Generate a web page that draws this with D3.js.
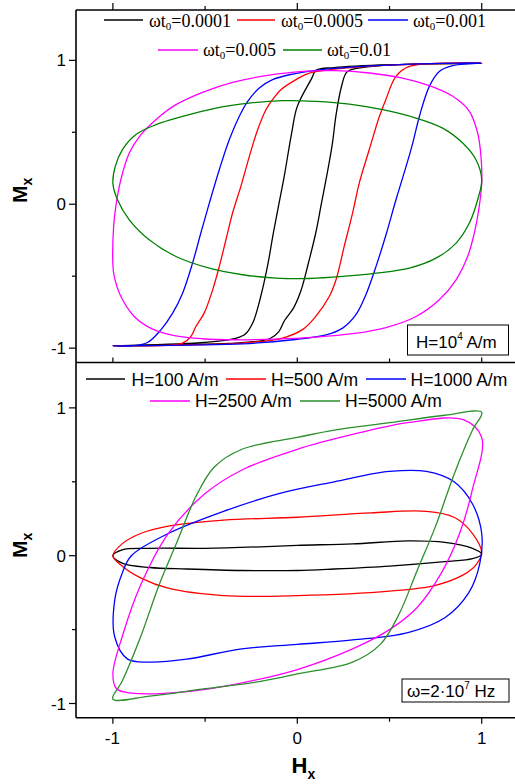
<!DOCTYPE html>
<html>
<head>
<meta charset="utf-8">
<script src="https://cdn.jsdelivr.net/npm/d3@7"></script>
<style>
  body { margin: 0; background: #fff; }
  svg { display: block; }
</style>
</head>
<body>
<div id="chart"></div>
<script>
// top panel: H = 1e4 A/m, different omega*t0
const topLabels = ["0.0001", "0.0005", "0.001", "0.005", "0.01"];
const topColors = ["#000000", "#ff0000", "#0000ff", "#ff00ff", "#008000"];

const loopW0001 = [[-1, -0.985], [-0.6, -0.975], [-0.3, -0.962], [-0.15, -0.935], [-0.1, -0.885], [-0.07, -0.81],
    [-0.02, -0.72], [0.02, -0.6], [0.06, -0.41], [0.1, -0.2], [0.13, 0], [0.16, 0.2], [0.19, 0.42], [0.21, 0.62],
    [0.24, 0.82], [0.27, 0.92], [0.35, 0.95], [0.55, 0.97], [1, 0.98],
    [0.5, 0.97], [0.2, 0.95], [0.1, 0.93], [0.08, 0.88], [0, 0.68], [-0.03, 0.5], [-0.07, 0.2], [-0.1, 0],
    [-0.13, -0.2], [-0.16, -0.42], [-0.2, -0.65], [-0.24, -0.82], [-0.28, -0.9], [-0.33, -0.93], [-0.5, -0.96]];

const loopW0005 = [[-1, -0.984], [-0.3, -0.965], [-0.08, -0.93], [0.03, -0.87], [0.1, -0.78], [0.174, -0.64],
    [0.21, -0.525], [0.255, -0.29], [0.3, -0.06], [0.336, 0.147], [0.39, 0.379], [0.445, 0.61], [0.48, 0.727],
    [0.535, 0.889], [0.608, 0.958], [1, 0.982],
    [0.4, 0.96], [0.065, 0.912], [-0.007, 0.866], [-0.089, 0.796], [-0.134, 0.727], [-0.17, 0.657], [-0.215, 0.518],
    [-0.26, 0.333], [-0.306, 0.124], [-0.351, -0.061], [-0.387, -0.247], [-0.423, -0.432], [-0.459, -0.595],
    [-0.505, -0.757], [-0.55, -0.85], [-0.577, -0.919], [-0.622, -0.965]];

const loopW001 = [[-1, -0.984], [-0.297, -0.97], [-0.025, -0.942], [0.156, -0.908], [0.246, -0.861], [0.318, -0.768],
    [0.372, -0.629], [0.427, -0.432], [0.481, -0.212], [0.535, 0.031], [0.59, 0.263], [0.626, 0.425], [0.662, 0.61],
    [0.716, 0.819], [0.77, 0.923], [0.843, 0.963], [1, 0.982],
    [0.427, 0.963], [0.101, 0.931], [-0.043, 0.9], [-0.134, 0.866], [-0.206, 0.808], [-0.269, 0.715], [-0.315, 0.61],
    [-0.369, 0.448], [-0.423, 0.24], [-0.477, 0.008], [-0.523, -0.2], [-0.568, -0.409], [-0.622, -0.618],
    [-0.676, -0.757], [-0.74, -0.873], [-0.812, -0.961], [-0.893, -0.984]];

const loopW005 = [[-1, -0.42], [-0.996, -0.155], [-0.984, -0.015], [-0.957, 0.17], [-0.911, 0.356], [-0.848, 0.484],
    [-0.767, 0.588], [-0.658, 0.692], [-0.514, 0.778], [-0.351, 0.847], [-0.17, 0.894], [0.029, 0.924], [0.21, 0.928],
    [0.391, 0.912], [0.571, 0.877], [0.716, 0.824], [0.843, 0.75], [0.933, 0.646], [0.978, 0.495], [0.996, 0.333],
    [1, 0.147], [0.984, -0.038], [0.96, -0.2], [0.924, -0.362], [0.861, -0.525], [0.77, -0.664], [0.644, -0.78],
    [0.481, -0.857], [0.3, -0.9], [0.101, -0.924], [-0.116, -0.938], [-0.333, -0.942], [-0.514, -0.935],
    [-0.658, -0.915], [-0.785, -0.868], [-0.884, -0.78], [-0.957, -0.64], [-0.993, -0.5]];

const loopW01 = [[-1, 0.147], [-0.987, 0.263], [-0.948, 0.379], [-0.875, 0.484], [-0.767, 0.553], [-0.622, 0.61],
    [-0.441, 0.668], [-0.26, 0.703], [-0.08, 0.72], [0.101, 0.715], [0.282, 0.696], [0.463, 0.657], [0.644, 0.599],
    [0.788, 0.529], [0.897, 0.425], [0.969, 0.309], [1, 0.17], [0.978, 0.031], [0.933, -0.131], [0.861, -0.27],
    [0.752, -0.375], [0.608, -0.444], [0.427, -0.479], [0.246, -0.502], [0.065, -0.516], [-0.116, -0.513],
    [-0.297, -0.49], [-0.477, -0.444], [-0.658, -0.363], [-0.803, -0.247], [-0.911, -0.108], [-0.975, 0.031]];

// bottom panel: omega = 2e7 Hz, different H amplitude
const botLabels = ["H=100 A/m", "H=500 A/m", "H=1000 A/m", "H=2500 A/m", "H=5000 A/m"];
const botColors = ["#000000", "#ff0000", "#0000ff", "#ff00ff", "#2b8f2b"];

const loopH100 = [[-1, 0], [-0.95, 0.04], [-0.8, 0.05], [-0.5, 0.05], [-0.2, 0.06], [0, 0.07], [0.3, 0.08], [0.6, 0.1],
    [0.8, 0.09], [0.95, 0.05], [1, 0.01], [0.95, -0.02], [0.8, -0.04], [0.5, -0.07], [0.2, -0.09], [0, -0.1],
    [-0.3, -0.1], [-0.6, -0.09], [-0.8, -0.08], [-0.95, -0.05]];

const loopH500 = [[-1, 0], [-0.95, 0.08], [-0.85, 0.15], [-0.7, 0.2], [-0.4, 0.24], [0, 0.26], [0.4, 0.29], [0.7, 0.3],
    [0.85, 0.26], [0.95, 0.15], [1, 0.02], [0.97, -0.06], [0.9, -0.13], [0.75, -0.2], [0.5, -0.24], [0, -0.27],
    [-0.4, -0.27], [-0.7, -0.22], [-0.85, -0.15], [-0.95, -0.07]];

const loopH1000 = [[-0.9, 0], [-0.7, 0.15], [-0.4, 0.3], [-0.1, 0.42], [0.2, 0.5], [0.5, 0.57], [0.7, 0.57], [0.85, 0.5],
    [0.95, 0.35], [1, 0.15], [0.99, -0.05], [0.93, -0.25], [0.8, -0.42], [0.6, -0.52], [0.3, -0.57], [0, -0.6],
    [-0.3, -0.63], [-0.6, -0.7], [-0.8, -0.72], [-0.92, -0.7], [-0.99, -0.55], [-0.99, -0.3], [-0.95, -0.12]];

const loopH2500 = [[1, 0.8], [0.9, 0.92], [0.6, 0.9], [0.3, 0.82], [0, 0.72], [-0.3, 0.58], [-0.5, 0.42], [-0.7, 0.15],
    [-0.85, -0.2], [-0.95, -0.55], [-1, -0.8], [-0.98, -0.9], [-0.9, -0.93], [-0.6, -0.92], [-0.3, -0.86], [0, -0.77],
    [0.3, -0.63], [0.5, -0.5], [0.65, -0.35], [0.78, -0.12], [0.88, 0.15], [0.95, 0.45]];

const loopH5000 = [[1, 0.97], [0.8, 0.95], [0.5, 0.9], [0.2, 0.85], [0, 0.8], [-0.3, 0.72], [-0.45, 0.6], [-0.55, 0.4],
    [-0.65, 0.1], [-0.75, -0.2], [-0.85, -0.55], [-0.95, -0.85], [-1, -0.97], [-0.8, -0.95], [-0.5, -0.9], [-0.2, -0.85],
    [0, -0.8], [0.3, -0.72], [0.45, -0.6], [0.55, -0.4], [0.65, -0.1], [0.75, 0.2], [0.85, 0.55], [0.95, 0.85]];

const majorTicks = [-1, 0, 1];
const minorTicks = [-0.5, 0.5];

const W = 515, H = 784;
const left = 76, right = 518.6;
const topY0 = 10, midY = 362.5, botY1 = 717.7;
const sans = "'Liberation Sans', Arial, sans-serif";
const serif = "'Liberation Serif', 'Times New Roman', serif";

const svg = d3.select("#chart").append("svg")
    .attr("width", W)
    .attr("height", H);

const x = d3.scaleLinear().domain([-1.2, 1.2]).range([left, right]);
const yTop = d3.scaleLinear().domain([-1.1, 1.35]).range([midY, topY0]);
const yBot = d3.scaleLinear().domain([-1.096, 1.307]).range([botY1, midY]);

svg.append("defs").append("clipPath").attr("id", "clipTop")
    .append("rect").attr("x", left).attr("y", topY0).attr("width", right - left).attr("height", midY - topY0);
svg.select("defs").append("clipPath").attr("id", "clipBot")
    .append("rect").attr("x", left).attr("y", midY).attr("width", right - left).attr("height", botY1 - midY);

function drawLoops(loops, colors, yScale, clip) {
    const line = d3.line()
        .x(d => x(d[0]))
        .y(d => yScale(d[1]))
        .curve(d3.curveCatmullRomClosed.alpha(0.5));
    const g = svg.append("g").attr("clip-path", `url(#${clip})`);
    loops.forEach((pts, i) => {
        g.append("path")
            .attr("d", line(pts))
            .attr("fill", "none")
            .attr("stroke", colors[i])
            .attr("stroke-width", 1.3);
    });
}

drawLoops([loopW0001, loopW0005, loopW001, loopW005, loopW01], topColors, yTop, "clipTop");
drawLoops([loopH100, loopH500, loopH1000, loopH2500, loopH5000], botColors, yBot, "clipBot");

// frame
const frame = svg.append("g").attr("stroke", "#000").attr("stroke-width", 1.6);
frame.append("line").attr("x1", left).attr("x2", left).attr("y1", topY0).attr("y2", botY1);
frame.append("line").attr("x1", left).attr("x2", W).attr("y1", topY0).attr("y2", topY0);
frame.append("line").attr("x1", left).attr("x2", W).attr("y1", midY).attr("y2", midY);
frame.append("line").attr("x1", left).attr("x2", W).attr("y1", botY1).attr("y2", botY1);

// x ticks: top (outward), middle (up into top panel), bottom (outward)
function xTicks(y0, dir, majorLen, minorLen) {
    const g = svg.append("g").attr("stroke", "#000").attr("stroke-width", 1.2);
    majorTicks.forEach(v => g.append("line").attr("x1", x(v)).attr("x2", x(v)).attr("y1", y0).attr("y2", y0 + dir * majorLen));
    minorTicks.forEach(v => g.append("line").attr("x1", x(v)).attr("x2", x(v)).attr("y1", y0).attr("y2", y0 + dir * minorLen));
}
xTicks(topY0, -1, 7, 4);
xTicks(midY, -1, 5, 4);
xTicks(botY1, 1, 6, 4);

// y axes
function yAxis(yScale) {
    const g = svg.append("g");
    majorTicks.forEach(v => {
        g.append("line").attr("x1", left - 7).attr("x2", left).attr("y1", yScale(v)).attr("y2", yScale(v))
            .attr("stroke", "#000").attr("stroke-width", 1.2);
        g.append("text").attr("x", 66).attr("y", yScale(v)).attr("dy", "0.36em")
            .attr("text-anchor", "end").attr("font-family", sans).attr("font-size", 17)
            .text(v === -1 ? "-1" : v);
    });
    minorTicks.forEach(v => {
        g.append("line").attr("x1", left - 4).attr("x2", left).attr("y1", yScale(v)).attr("y2", yScale(v))
            .attr("stroke", "#000").attr("stroke-width", 1.2);
    });
}
yAxis(yTop);
yAxis(yBot);

majorTicks.forEach(v => {
    svg.append("text").attr("x", x(v) - (v === -1 ? 0.5 : 0)).attr("y", 744)
        .attr("text-anchor", "middle").attr("font-family", sans).attr("font-size", 17)
        .text(v === -1 ? "-1" : v);
});

// axis titles
function mLabel(yStart) {
    const t = svg.append("text")
        .attr("transform", `translate(26.7,${yStart}) rotate(-90)`)
        .attr("font-family", sans).attr("font-weight", "bold").attr("font-size", 21);
    t.append("tspan").text("M");
    t.append("tspan").attr("font-size", 14).attr("dy", 5).text("x");
}
mLabel(203);
mLabel(558);

const hx = svg.append("text").attr("x", 291.5).attr("y", 773)
    .attr("font-family", sans).attr("font-weight", "bold").attr("font-size", 22);
hx.append("tspan").text("H");
hx.append("tspan").attr("font-size", 14).attr("dy", 6).text("x");

// top legend (serif)
const topLegend = [
    { i: 0, x1: 104, x2: 143, tx: 149, y: 20, ty: 26.5 },
    { i: 1, x1: 237, x2: 275, tx: 281, y: 20, ty: 26.5 },
    { i: 2, x1: 368, x2: 408, tx: 413, y: 20, ty: 26.5 },
    { i: 3, x1: 158, x2: 198, tx: 203, y: 50, ty: 55.5 },
    { i: 4, x1: 283, x2: 322, tx: 327, y: 50, ty: 55.5 }
];
topLegend.forEach(d => {
    svg.append("line").attr("x1", d.x1).attr("x2", d.x2).attr("y1", d.y).attr("y2", d.y)
        .attr("stroke", topColors[d.i]).attr("stroke-width", 1.3);
    const t = svg.append("text").attr("x", d.tx).attr("y", d.ty)
        .attr("font-family", serif).attr("font-size", 18);
    t.append("tspan").text("ωt");
    t.append("tspan").attr("font-size", 11).attr("dy", 3).text("0");
    t.append("tspan").attr("dy", -3).text("=" + topLabels[d.i]);
});

// bottom legend (sans)
const botLegend = [
    { i: 0, x1: 86, x2: 125, tx: 131.5, y: 379, ty: 386 },
    { i: 1, x1: 226, x2: 266, tx: 271, y: 379, ty: 386 },
    { i: 2, x1: 366, x2: 406, tx: 410.5, y: 379, ty: 386 },
    { i: 3, x1: 150, x2: 190, tx: 195, y: 401, ty: 407 },
    { i: 4, x1: 300, x2: 340, tx: 345, y: 401, ty: 407 }
];
botLegend.forEach(d => {
    svg.append("line").attr("x1", d.x1).attr("x2", d.x2).attr("y1", d.y).attr("y2", d.y)
        .attr("stroke", botColors[d.i]).attr("stroke-width", 1.3);
    svg.append("text").attr("x", d.tx).attr("y", d.ty)
        .attr("font-family", sans).attr("font-size", 17.5)
        .text(botLabels[d.i]);
});

// annotation boxes
svg.append("rect").attr("x", 407.5).attr("y", 325).attr("width", 101).attr("height", 30)
    .attr("fill", "#fff").attr("stroke", "#000").attr("stroke-width", 1);
const a1 = svg.append("text").attr("x", 416).attr("y", 347.5).attr("font-family", sans).attr("font-size", 17);
a1.append("tspan").text("H=10");
a1.append("tspan").attr("font-size", 10).attr("dy", -8).text("4");
a1.append("tspan").attr("dy", 8).text(" A/m");

svg.append("rect").attr("x", 402).attr("y", 679).attr("width", 107).attr("height", 23)
    .attr("fill", "#fff").attr("stroke", "#000").attr("stroke-width", 1);
const a2 = svg.append("text").attr("x", 407).attr("y", 697).attr("font-family", sans).attr("font-size", 17);
a2.append("tspan").text("ω=2·10");
a2.append("tspan").attr("font-size", 10).attr("dy", -8).text("7");
a2.append("tspan").attr("dy", 8).text(" Hz");
</script>
</body>
</html>
